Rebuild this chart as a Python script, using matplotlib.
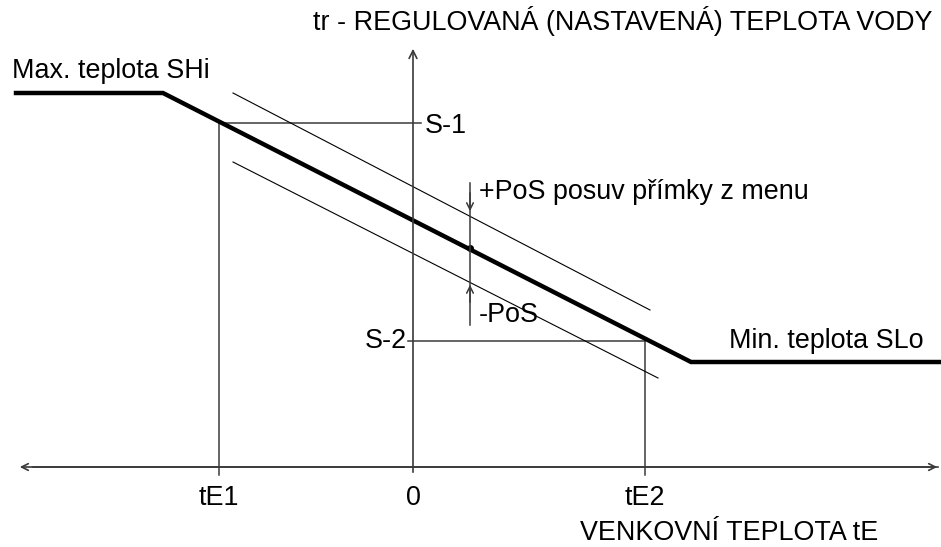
import matplotlib.pyplot as plt

plt.rcParams['font.family'] = ['Liberation Sans', 'DejaVu Sans']

# heating curve (pixel-like schematic coordinates, y grows downward)
curve_x = [16, 163, 691, 941]
curve_y = [93, 93, 362, 362]
upper_x = [233, 650]
upper_y = [93, 310]
lower_x = [233, 658]
lower_y = [162, 378]

zero_x = 413
axis_y = 467
te_x = [219, 645]
te_labels = ['tE1', 'tE2']
s_y = [123, 341]
s_labels = ['S-1', 'S-2']
pos_x = 470
pos_point_y = 248

fig = plt.figure(figsize=(9.41, 5.47), dpi=100)
ax = fig.add_axes([0, 0, 1, 1])
ax.set_xlim(0, 941)
ax.set_ylim(547, 0)
ax.axis('off')

gray = '#3a3a3a'
fs = 19.4

# axes
ax.annotate('', xy=(17, axis_y), xytext=(941, axis_y),
            arrowprops=dict(arrowstyle='->', color=gray, lw=1.2, mutation_scale=12))
ax.annotate('', xy=(940, axis_y), xytext=(30, axis_y),
            arrowprops=dict(arrowstyle='->', color=gray, lw=1.2, mutation_scale=12))
ax.annotate('', xy=(zero_x, 46), xytext=(zero_x, 475),
            arrowprops=dict(arrowstyle='->', color=gray, lw=1.2, mutation_scale=14))

# reference lines
ax.plot([te_x[0], te_x[0]], [s_y[0], 475], color=gray, lw=1.1)
ax.plot([te_x[1], te_x[1]], [s_y[1], 475], color=gray, lw=1.1)
ax.plot([te_x[0], 421], [s_y[0], s_y[0]], color=gray, lw=1.1)
ax.plot([408, te_x[1]], [s_y[1], s_y[1]], color=gray, lw=1.1)

# parallel shifted lines
ax.plot(upper_x, upper_y, color='black', lw=0.8)
ax.plot(lower_x, lower_y, color='black', lw=0.8)

# main curve
ax.plot(curve_x, curve_y, color='black', lw=3.2, solid_joinstyle='miter')
ax.plot([pos_x], [pos_point_y], 'o', color='black', ms=4)

# PoS marker
ax.plot([pos_x, pos_x], [183, 325], color=gray, lw=1.1)
ax.annotate('', xy=(pos_x, 214), xytext=(pos_x, 190),
            arrowprops=dict(arrowstyle='->', color=gray, lw=1.1, mutation_scale=12))
ax.annotate('', xy=(pos_x, 282), xytext=(pos_x, 305),
            arrowprops=dict(arrowstyle='->', color=gray, lw=1.1, mutation_scale=12))

# texts
ax.text(313, 30, 'tr - REGULOVANÁ (NASTAVENÁ) TEPLOTA VODY', fontsize=fs, va='baseline')
ax.text(12, 78, 'Max. teplota SHi', fontsize=fs, va='baseline')
ax.text(729, 348, 'Min. teplota SLo', fontsize=fs, va='baseline')
ax.text(425, 133, s_labels[0], fontsize=fs, va='baseline')
ax.text(407, 348, s_labels[1], fontsize=fs, va='baseline', ha='right')
ax.text(479, 199, '+PoS posuv přímky z menu', fontsize=fs, va='baseline')
ax.text(479, 322, '-PoS', fontsize=fs, va='baseline')
for x, lab in zip(te_x, te_labels):
    ax.text(x, 505, lab, fontsize=fs, va='baseline', ha='center')
ax.text(zero_x, 505, '0', fontsize=fs, va='baseline', ha='center')
ax.text(878, 540, 'VENKOVNÍ TEPLOTA tE', fontsize=fs, va='baseline', ha='right')

fig.savefig('out.png', dpi=100)
